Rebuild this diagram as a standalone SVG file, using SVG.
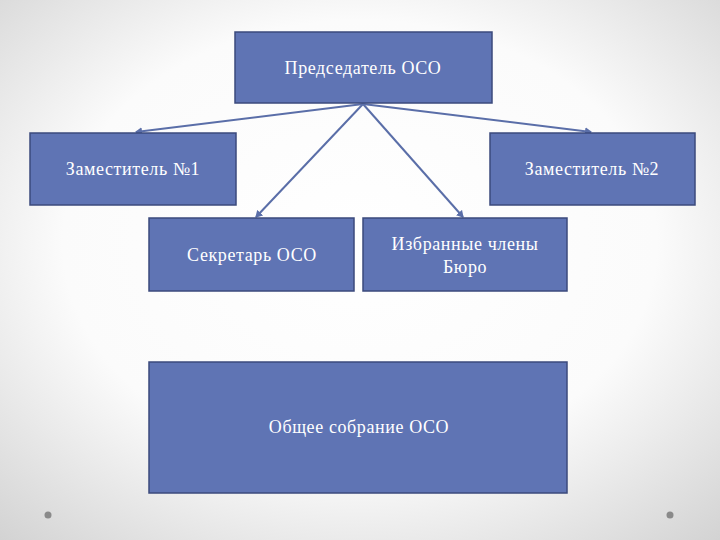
<svg xmlns="http://www.w3.org/2000/svg" width="720" height="540" viewBox="0 0 720 540">
<defs>
<radialGradient id="bg" cx="50%" cy="45%" r="75%">
<stop offset="0" stop-color="#ffffff"/>
<stop offset="0.55" stop-color="#fbfbfb"/>
<stop offset="1" stop-color="#d2d2d2"/>
</radialGradient>
<marker id="arr" markerWidth="8" markerHeight="8" refX="6" refY="4" orient="auto" markerUnits="userSpaceOnUse">
<path d="M0,0 L7,4 L0,8 Z" fill="#5a6ea8"/>
</marker>
</defs>
<style>
.box{fill:#5f74b4;stroke:#3b4a7c;stroke-width:1.5}
.t{font-family:"Liberation Serif","DejaVu Serif",serif;font-size:18px;letter-spacing:0.6px;fill:#ffffff;text-anchor:middle}
.c{stroke:#5a6ea8;stroke-width:2;fill:none;marker-end:url(#arr)}
.dot{fill:#8a8a8a}
</style>
<rect width="720" height="540" fill="url(#bg)"/>
<circle class="dot" cx="48" cy="515" r="3.5"/>
<circle class="dot" cx="670" cy="515" r="3.5"/>
<g id="connectors">
<line class="c" x1="363" y1="104" x2="136" y2="132"/>
<line class="c" x1="363" y1="104" x2="591" y2="132"/>
<line class="c" x1="363" y1="104" x2="256" y2="217"/>
<line class="c" x1="363" y1="104" x2="463" y2="217"/>
</g>
<g id="chairman">
<rect class="box" x="235" y="32" width="257" height="71"/>
<text class="t" x="363" y="74">Председатель ОСО</text>
</g>
<g id="deputy1">
<rect class="box" x="30" y="133" width="206" height="72"/>
<text class="t" x="133" y="175">Заместитель №1</text>
</g>
<g id="deputy2">
<rect class="box" x="490" y="133" width="205" height="72"/>
<text class="t" x="592" y="175">Заместитель №2</text>
</g>
<g id="secretary">
<rect class="box" x="149" y="218" width="205" height="73"/>
<text class="t" x="252" y="261">Секретарь ОСО</text>
</g>
<g id="members">
<rect class="box" x="363" y="218" width="204" height="73"/>
<text class="t" x="465" y="250">Избранные члены</text>
<text class="t" x="465" y="273">Бюро</text>
</g>
<g id="assembly">
<rect class="box" x="149" y="362" width="418" height="131"/>
<text class="t" x="359" y="433">Общее собрание ОСО</text>
</g>
</svg>
